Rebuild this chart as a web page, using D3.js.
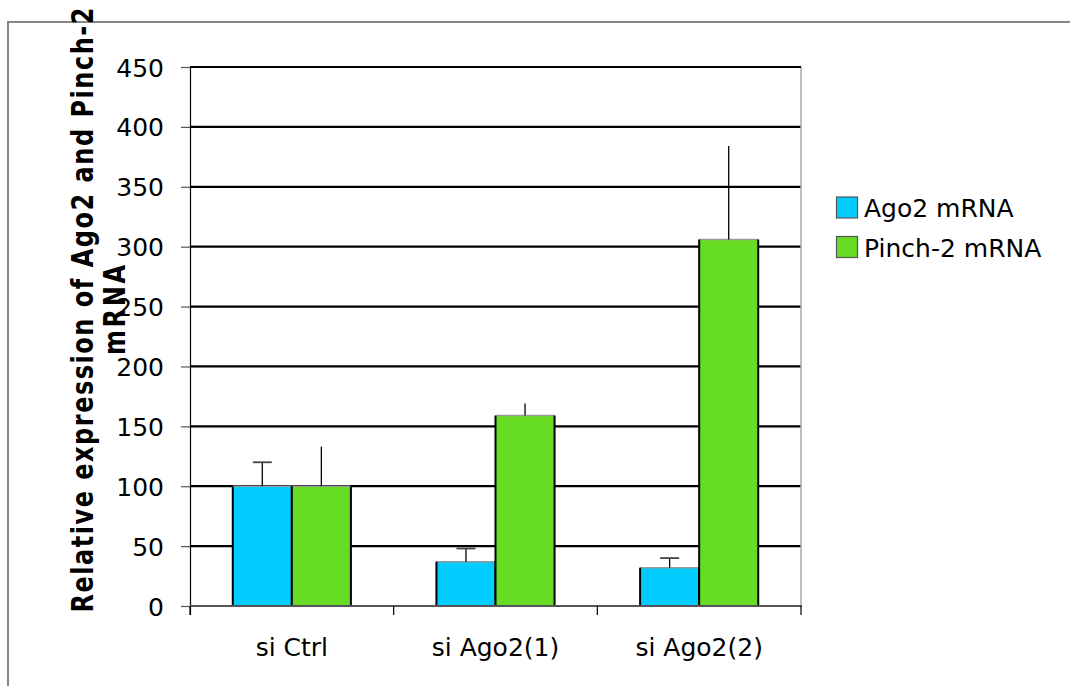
<!DOCTYPE html>
<html><head><meta charset="utf-8">
<script src="https://cdn.jsdelivr.net/npm/d3@7"></script>
<style>body{margin:0;background:#fff}svg{display:block}text{font-family:"DejaVu Sans",Verdana,sans-serif;fill:#000}</style>
</head><body><svg id="c" width="1070" height="686"></svg>
<script>
const categories = ["si Ctrl", "si Ago2(1)", "si Ago2(2)"];
const seriesNames = ["Ago2 mRNA", "Pinch-2 mRNA"];
const ago2Values = [100, 37, 32];
const ago2Errors = [20, 11, 8];
const pinchValues = [100, 159, 306];
const pinchErrors = [33, 10, 78];
const yTicks = [0, 50, 100, 150, 200, 250, 300, 350, 400, 450];
const yTitle1 = "Relative expression of Ago2 and Pinch-2";
const yTitle2 = "mRNA";

const colors = ["#00ccff", "#66dd22"];
const series = [
  {name: seriesNames[0], values: ago2Values, errors: ago2Errors, cap: true},
  {name: seriesNames[1], values: pinchValues, errors: pinchErrors, cap: false}
];

const svg = d3.select("#c");
const L = 190, R = 801, T = 67, B = 606;

// outer frame
svg.append("path").attr("d", `M8,687V22H1071`).attr("fill", "none").attr("stroke", "#888").attr("stroke-width", 2);

const x = d3.scaleBand().domain(categories).range([L, R]).padding(0);
const sub = d3.scaleBand().domain(seriesNames).range([0, x.bandwidth()]).paddingInner(0).paddingOuter(0.724);
const y = d3.scaleLinear().domain([0, 450]).range([B, T]);

// gridlines
svg.append("g").selectAll("line").data(yTicks.filter(d => d > 0)).join("line")
  .attr("x1", L).attr("x2", R).attr("y1", d => y(d)).attr("y2", d => y(d))
  .attr("stroke", "#000").attr("stroke-width", 2.2);

// right border
svg.append("line").attr("x1", R).attr("x2", R).attr("y1", T).attr("y2", B).attr("stroke", "#aaa").attr("stroke-width", 1.5);

// y axis
const yAxis = d3.axisLeft(y).tickValues(yTicks).tickSize(9).tickPadding(17);
const gy = svg.append("g").attr("transform", `translate(${L},0)`).call(yAxis);
gy.select(".domain").attr("stroke", "#000").attr("stroke-width", 1.2).attr("d", `M0.5,${T}V${B + 9}`);
gy.selectAll(".tick line").attr("stroke", "#555").attr("stroke-width", 1.2);
gy.selectAll(".tick text").style("font-size", "25px").attr("dy", "0.36em").attr("fill", "#000");

// bars
const g = svg.append("g");
series.forEach((s, si) => {
  categories.forEach((c, ci) => {
    const x0 = x(c) + sub(s.name), w = sub.bandwidth();
    const yv = y(s.values[ci]);
    g.append("rect").attr("x", x0).attr("y", yv).attr("width", w).attr("height", B - yv).attr("fill", colors[si]);
    g.append("line").attr("x1", x0).attr("x2", x0 + w).attr("y1", yv).attr("y2", yv).attr("stroke", "#999").attr("stroke-width", 1.5);
    g.append("line").attr("x1", x0).attr("x2", x0).attr("y1", yv).attr("y2", B).attr("stroke", "#000").attr("stroke-width", 2);
    g.append("line").attr("x1", x0 + w).attr("x2", x0 + w).attr("y1", yv).attr("y2", B).attr("stroke", "#000").attr("stroke-width", 2);
    // error bar
    const xc = x0 + w / 2, ye = y(s.values[ci] + s.errors[ci]);
    g.append("line").attr("x1", xc).attr("x2", xc).attr("y1", yv).attr("y2", ye).attr("stroke", "#000").attr("stroke-width", 1.3);
    if (s.cap) g.append("line").attr("x1", xc - 9.5).attr("x2", xc + 9.5).attr("y1", ye).attr("y2", ye).attr("stroke", "#444").attr("stroke-width", 1.8);
  });
});

// top border
svg.append("line").attr("x1", L).attr("x2", R).attr("y1", T).attr("y2", T).attr("stroke", "#000").attr("stroke-width", 2);

// x axis
const gx = svg.append("g").attr("transform", `translate(0,${B})`);
gx.append("line").attr("x1", L).attr("x2", R + 1).attr("y1", 0).attr("y2", 0).attr("stroke", "#555").attr("stroke-width", 2);
const bounds = categories.map(c => x(c)).concat([x(categories[categories.length - 1]) + x.bandwidth()]);
gx.selectAll("line.tk").data(bounds).join("line").attr("class", "tk")
  .attr("x1", d => d).attr("x2", d => d).attr("y1", 0).attr("y2", 9).attr("stroke", "#000").attr("stroke-width", 1.2);
gx.selectAll("text").data(categories).join("text")
  .attr("x", d => x(d) + x.bandwidth() / 2).attr("y", 50).attr("text-anchor", "middle").style("font-size", "25px").text(d => d);

// y title (glyphs stretched across the baseline, letters spaced along it)
const st = 1.25;
const yt = svg.append("g").attr("transform", `translate(0,310) rotate(-90) scale(1,${st})`);
yt.append("text").attr("x", 0).attr("y", 93 / st).attr("text-anchor", "middle").style("font-size", "24px").style("font-weight", "bold")
  .attr("textLength", 605).attr("lengthAdjust", "spacing").text(yTitle1);
yt.append("text").attr("x", 0).attr("y", 125 / st).attr("text-anchor", "middle").style("font-size", "24px").style("font-weight", "bold")
  .attr("textLength", 90).attr("lengthAdjust", "spacing").text(yTitle2);

// legend
const lg = svg.append("g");
series.forEach((s, i) => {
  const yy = 197 + i * 39.5;
  lg.append("rect").attr("x", 836.5).attr("y", yy).attr("width", 21).attr("height", 21).attr("fill", colors[i]).attr("stroke", "#555").attr("stroke-width", 1.2);
  lg.append("text").attr("x", 864).attr("y", yy + 20).style("font-size", "25px").text(s.name);
});
</script></body></html>
